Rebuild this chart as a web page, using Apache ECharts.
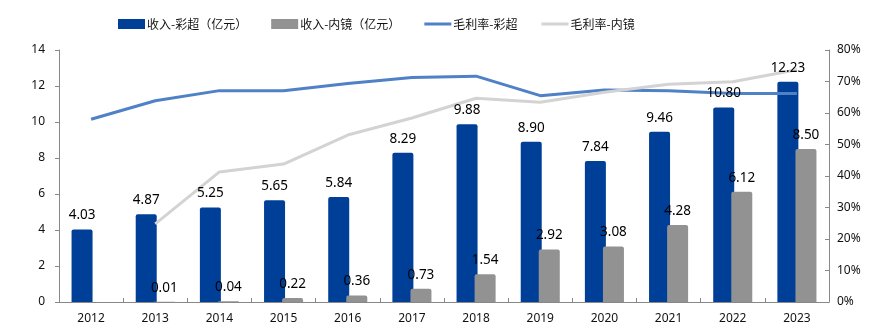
<!DOCTYPE html>
<html><head><meta charset="utf-8">
<script src="https://cdn.jsdelivr.net/npm/echarts@6/dist/echarts.min.js"></script>
<style>html,body{margin:0;padding:0;background:#fff}#c{width:881px;height:331px}</style>
</head><body><div id="c"></div>
<script>
const years = ['2012','2013','2014','2015','2016','2017','2018','2019','2020','2021','2022','2023'];
const revColor = [4.03,4.87,5.25,5.65,5.84,8.29,9.88,8.90,7.84,9.46,10.80,12.23];
const revEndo = [null,0.01,0.04,0.22,0.36,0.73,1.54,2.92,3.08,4.28,6.12,8.50];
const gmColor = [58.0,63.9,67.1,67.1,69.4,71.3,71.7,65.5,67.3,67.1,66.2,66.2];
const gmEndo = [null,24.8,41.3,43.8,53.0,58.4,64.7,63.4,66.6,69.1,69.9,73.7];
const leftTicks = [0,2,4,6,8,10,12,14];
const rightTicks = [0,10,20,30,40,50,60,70,80];

const font = '"Noto Sans", "DejaVu Sans", sans-serif';
const chart = echarts.init(document.getElementById('c'), null, {renderer:'canvas'});
const fmt = p => Number(p.value).toFixed(2);
const lbl = (dx) => ({show:true, position:'top', distance:7, offset:[dx,0], color:'#000', fontSize:13.5, fontFamily:font, formatter: fmt});
const linePath = 'path://M0,0 L27,0 L27,3 L0,3 Z';
chart.setOption({
  animation:false,
  textStyle:{fontFamily:font},
  legend:{
    top:13, left:113, itemWidth:27, itemHeight:10, itemGap:24,
    textStyle:{fontSize:12, color:'#111', fontFamily:'"Noto Sans CJK SC", sans-serif', padding:[0,0,0,-3]},
    data:[
      {name:'收入-彩超（亿元）', icon:'rect'},
      {name:'收入-内镜（亿元）', icon:'rect'},
      {name:'毛利率-彩超', icon:linePath},
      {name:'毛利率-内镜', icon:linePath}
    ]
  },
  grid:{left:59, right:52, top:50, bottom:29},
  xAxis:[
    {type:'category', data:years, boundaryGap:true,
     axisLine:{lineStyle:{color:'#888'}}, axisTick:{show:true, inside:true, length:4, lineStyle:{color:'#888'}},
     axisLabel:{color:'#111', fontSize:12, margin:11, fontFamily:font}},
    {type:'category', data:years, boundaryGap:true, show:false}
  ],
  yAxis:[
    {type:'value', min:leftTicks[0], max:leftTicks[leftTicks.length-1], interval:2,
     axisLine:{show:true, lineStyle:{color:'#888'}}, axisTick:{show:true, length:4, lineStyle:{color:'#888'}},
     splitLine:{show:false}, axisLabel:{color:'#111', fontSize:12, margin:14, fontFamily:font}},
    {type:'value', min:rightTicks[0], max:rightTicks[rightTicks.length-1], interval:10,
     axisLine:{show:true, lineStyle:{color:'#888'}}, axisTick:{show:true, inside:true, length:4, lineStyle:{color:'#888'}},
     splitLine:{show:false}, axisLabel:{color:'#111', fontSize:12, margin:8, formatter:'{value}%', fontFamily:font}}
  ],
  series:[
    {name:'收入-彩超（亿元）', type:'bar', data:revColor, barWidth:21, barGap:'-14%', z:2,
     itemStyle:{color:'#003f98', borderRadius:[2,2,0,0]}},
    {name:'收入-内镜（亿元）', type:'bar', data:revEndo, barWidth:21, z:2,
     itemStyle:{color:'#929292', borderRadius:[2,2,0,0]}},
    {name:'毛利率-彩超', type:'line', yAxisIndex:1, data:gmColor, symbol:'none',
     lineStyle:{color:'#4f81c7', width:3}, itemStyle:{color:'#4f81c7'}, z:3},
    {name:'毛利率-内镜', type:'line', yAxisIndex:1, data:gmEndo, symbol:'none',
     lineStyle:{color:'#d3d3d3', width:3}, itemStyle:{color:'#d3d3d3'}, z:3},
    {name:'lblColor', type:'bar', xAxisIndex:1, data:revColor, barWidth:21, barGap:'-14%', z:10, silent:true,
     itemStyle:{color:'rgba(0,0,0,0)'}, label:lbl(0), labelLayout:{hideOverlap:false}},
    {name:'lblEndo', type:'bar', xAxisIndex:1, data:revEndo, barWidth:21, z:10, silent:true,
     itemStyle:{color:'rgba(0,0,0,0)'}, label:lbl(8), labelLayout:{hideOverlap:false}}
  ]
});
</script></body></html>
